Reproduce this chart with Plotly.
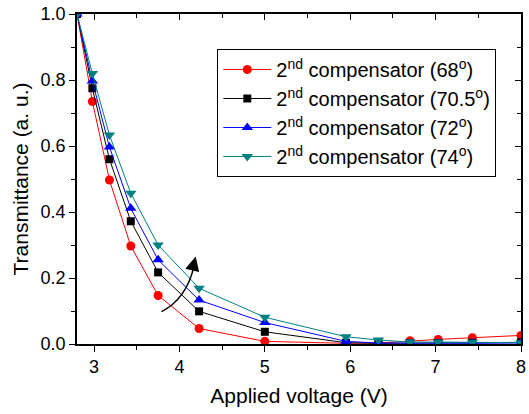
import plotly.graph_objects as go

voltage = [2.8, 2.98, 3.18, 3.43, 3.75, 4.23, 5.0, 5.95, 6.33, 6.70, 7.03, 7.43, 8.0]
t_68 = [1.0, 0.735, 0.497, 0.297, 0.147, 0.047, 0.008, 0.002, 0.003, 0.010, 0.014, 0.019, 0.026]
t_705 = [1.0, 0.775, 0.56, 0.372, 0.217, 0.099, 0.037, 0.004, 0.002, 0.002, 0.003, 0.004, 0.005]
t_72 = [1.0, 0.797, 0.597, 0.411, 0.255, 0.133, 0.065, 0.008, 0.003, 0.002, 0.002, 0.002, 0.003]
t_74 = [1.0, 0.82, 0.633, 0.457, 0.30, 0.169, 0.081, 0.022, 0.012, 0.006, 0.006, 0.005, 0.004]

names = ["2<sup>nd</sup> compensator (68<sup>o</sup>)",
         "2<sup>nd</sup> compensator (70.5<sup>o</sup>)",
         "2<sup>nd</sup> compensator (72<sup>o</sup>)",
         "2<sup>nd</sup> compensator (74<sup>o</sup>)"]
series = [t_68, t_705, t_72, t_74]
colors = ["#FF0000", "#000000", "#0000FF", "#008080"]
symbols = ["circle", "square", "triangle-up", "triangle-down"]
sizes = [9, 8, 10, 10]

FONT = "Liberation Sans"

fig = go.Figure()
for n, s, c, m, sz in zip(names, series, colors, symbols, sizes):
    fig.add_trace(go.Scatter(x=voltage, y=s, name=n, mode="lines+markers",
                             line=dict(color=c, width=1),
                             marker=dict(symbol=m, size=sz, color=c)))

# dummy trace for mirrored top/right axes
fig.add_trace(go.Scatter(x=[3], y=[0.5], xaxis="x2", yaxis="y2", mode="markers",
                         marker=dict(opacity=0), showlegend=False, hoverinfo="skip"))

# curved arrow (quadratic path) + head
x0, y0 = 3.79, 0.098
xc, yc = 4.08, 0.136
x1, y1 = 4.17, 0.235
fig.add_shape(type="path", xref="x", yref="y",
              path=f"M {x0},{y0} Q {xc},{yc} {x1},{y1}",
              line=dict(color="black", width=1.5))
fig.add_annotation(x=4.19, y=0.265, ax=-3, ay=12, xref="x", yref="y",
                   axref="pixel", ayref="pixel", text="", showarrow=True,
                   arrowhead=2, arrowsize=1.9, arrowwidth=1.5, arrowcolor="black")

axis_common = dict(showline=True, linecolor="black", linewidth=1.5, showgrid=False,
                   zeroline=False, tickcolor="black", tickwidth=1.2)

fig.update_layout(
    width=529, height=414,
    margin=dict(l=77, r=3, t=14, b=70),
    paper_bgcolor="white", plot_bgcolor="white",
    font=dict(family=FONT, size=18, color="black"),
    xaxis=dict(range=[2.8, 8.0], tick0=3, dtick=1, ticks="outside", ticklen=6,
               minor=dict(ticks="outside", ticklen=4, dtick=0.5, tick0=3, tickcolor="black"),
               title=dict(text="Applied voltage (V)", font=dict(size=21), standoff=12),
               tickfont=dict(size=18), ticklabeloverflow="allow", **axis_common),
    yaxis=dict(range=[0, 1.0], tick0=0, dtick=0.2, ticks="outside", ticklen=6,
               tickformat=".1f", ticklabeloverflow="allow",
               minor=dict(ticks="outside", ticklen=4, dtick=0.1, tick0=0, tickcolor="black"),
               title=dict(text="Transmittance (a. u.)", font=dict(size=21), standoff=6),
               tickfont=dict(size=18), **axis_common),
    xaxis2=dict(overlaying="x", matches="x", side="top", anchor="y", ticks="inside",
                ticklen=6, showticklabels=False, tick0=3, dtick=1,
                minor=dict(ticks="inside", ticklen=4, dtick=0.5, tick0=3, tickcolor="black"),
                **axis_common),
    yaxis2=dict(overlaying="y", matches="y", side="right", anchor="x", ticks="inside",
                ticklen=6, showticklabels=False, tick0=0, dtick=0.2,
                minor=dict(ticks="inside", ticklen=4, dtick=0.1, tick0=0, tickcolor="black"),
                **axis_common),
    legend=dict(x=0.316, y=0.894, xanchor="left", yanchor="top",
                bordercolor="black", borderwidth=1, bgcolor="white",
                font=dict(size=20), tracegroupgap=0, itemwidth=48),
    showlegend=True,
)

fig.write_html("out.html")
